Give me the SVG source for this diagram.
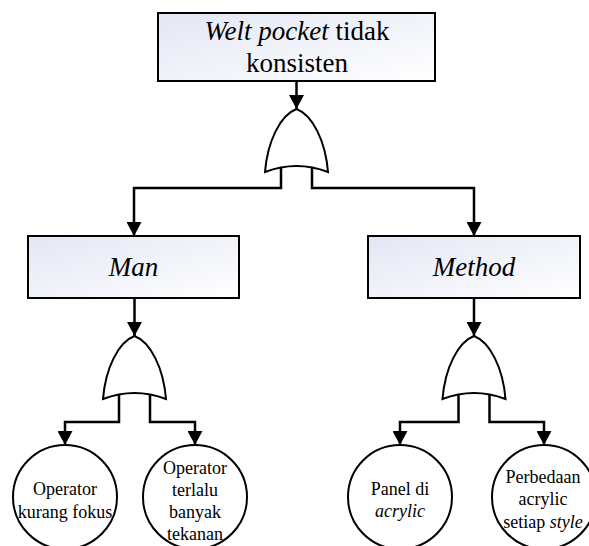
<svg xmlns="http://www.w3.org/2000/svg" width="589" height="546" viewBox="0 0 589 546">
<style>
.box{fill:url(#g);stroke:#000;stroke-width:2}
.gate{fill:#fff;stroke:#000;stroke-width:2}
.circ{fill:#fff;stroke:#000;stroke-width:2}
.conn{fill:none;stroke:#000;stroke-width:2.5;marker-end:url(#arr)}
text{font-family:'Liberation Serif','Times New Roman',serif;fill:#000;text-anchor:middle}
.big{font-size:27px}
.small{font-size:18px}
.i{font-style:italic}
</style>
<defs>
<linearGradient id="g" x1="0" y1="0" x2="1" y2="1">
<stop offset="0" stop-color="#e3e7f4"/>
<stop offset="1" stop-color="#ffffff"/>
</linearGradient>
<marker id="arr" viewBox="0 0 14 15" refX="14" refY="7.5" markerWidth="14" markerHeight="15" markerUnits="userSpaceOnUse" orient="auto">
<path d="M0,0 L14,7.5 L0,15 Z" fill="#000"/>
</marker>
<path id="or" d="M-31.5,63 C-29,32 -16,6 0,0 C16,6 29,32 31.5,63 Q0,51 -31.5,63 Z"/>
</defs>

<g id="connectors">
<path class="conn" d="M296.5,81 V109"/>
<path class="conn" d="M281,166 V188 H134 V236"/>
<path class="conn" d="M312,166 V188 H474 V236"/>
<path class="conn" d="M134.5,298 V336"/>
<path class="conn" d="M474,298 V336"/>
<path class="conn" d="M119,393 V422 H65 V445"/>
<path class="conn" d="M150,393 V422 H195 V445"/>
<path class="conn" d="M458.5,393 V422 H400 V445"/>
<path class="conn" d="M489.5,393 V422 H544 V445"/>
</g>

<g id="top">
<rect class="box" x="158" y="13" width="277" height="68"/>
<text class="big" x="297" y="40"><tspan class="i">Welt pocket</tspan> tidak</text>
<text class="big" x="297" y="72">konsisten</text>
</g>

<g id="gate-top"><use href="#or" class="gate" x="296.5" y="109"/></g>

<g id="man">
<rect class="box" x="28" y="236" width="211" height="62"/>
<text class="big i" x="133.5" y="276">Man</text>
</g>

<g id="method">
<rect class="box" x="368" y="236" width="212" height="62"/>
<text class="big i" x="474" y="276">Method</text>
</g>

<g id="gate-man"><use href="#or" class="gate" x="134.5" y="336"/></g>
<g id="gate-method"><use href="#or" class="gate" x="474" y="336"/></g>

<g id="c1">
<circle class="circ" cx="65" cy="497" r="52"/>
<text class="small" x="65" y="495">Operator</text>
<text class="small" x="65" y="518">kurang fokus</text>
</g>

<g id="c2">
<circle class="circ" cx="195" cy="497" r="52"/>
<text class="small" x="195" y="474">Operator</text>
<text class="small" x="195" y="496">terlalu</text>
<text class="small" x="195" y="518">banyak</text>
<text class="small" x="195" y="540">tekanan</text>
</g>

<g id="c3">
<circle class="circ" cx="400" cy="497" r="52"/>
<text class="small" x="400" y="495">Panel di</text>
<text class="small i" x="400" y="517">acrylic</text>
</g>

<g id="c4">
<circle class="circ" cx="544" cy="497" r="52"/>
<text class="small" x="543" y="483">Perbedaan</text>
<text class="small" x="543" y="505">acrylic</text>
<text class="small" x="543" y="528">setiap <tspan class="i">style</tspan></text>
</g>
</svg>
